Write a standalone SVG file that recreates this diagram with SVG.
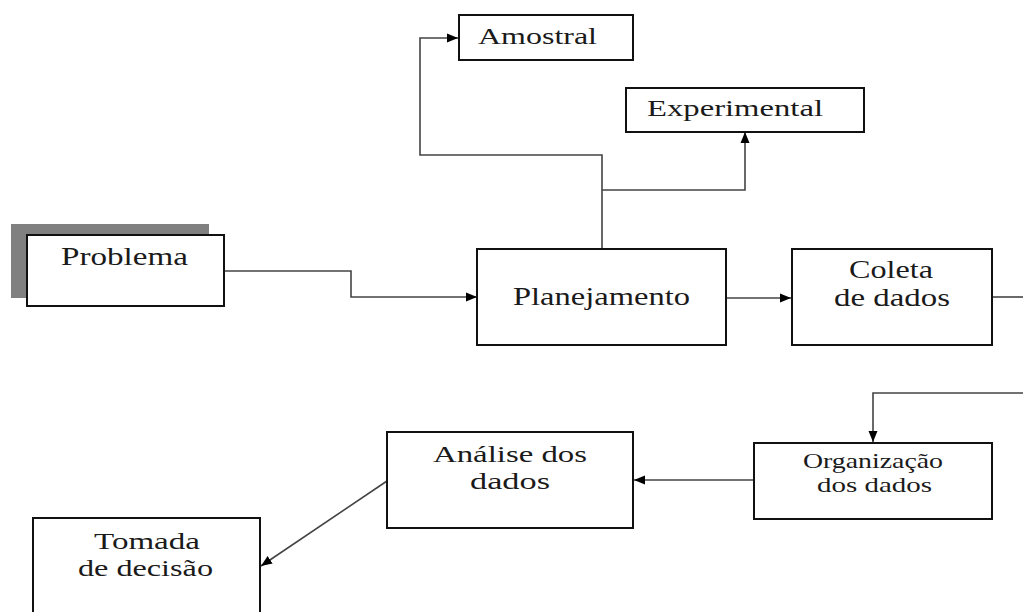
<svg xmlns="http://www.w3.org/2000/svg" width="1023" height="612" viewBox="0 0 1023 612">
<defs>
<style>
.box{fill:#fff;stroke:#111;stroke-width:2}
.lbl{font-family:"Liberation Serif","Times New Roman",serif;fill:#1a1a1a}
.edge{fill:none;stroke:#444;stroke-width:1.6}
</style>
<marker id="arr" markerUnits="userSpaceOnUse" markerWidth="12" markerHeight="10" refX="11" refY="5" orient="auto">
<path d="M0,0.5 L11,5 L0,9.5 z" fill="#000"/>
</marker>
</defs>
<rect width="1023" height="612" fill="#fff"/>

<g id="connectors">
<path class="edge" d="M224,271 H351 V297 H477" marker-end="url(#arr)"/>
<path class="edge" d="M602,249 V155 H420 V38 H458" marker-end="url(#arr)"/>
<path class="edge" d="M602,190 H745 V132" marker-end="url(#arr)"/>
<path class="edge" d="M726,298 H791" marker-end="url(#arr)"/>
<path class="edge" d="M992,297 H1023"/>
<path class="edge" d="M1023,393 H873 V442" marker-end="url(#arr)"/>
<path class="edge" d="M754,480 H634" marker-end="url(#arr)"/>
<path class="edge" d="M387,481 L261,566" marker-end="url(#arr)"/>
</g>

<g id="amostral">
<rect class="box" x="459" y="15" width="174" height="45"/>
<text class="lbl" x="478" y="44" font-size="23" textLength="119" lengthAdjust="spacingAndGlyphs">Amostral</text>
</g>

<g id="experimental">
<rect class="box" x="626" y="88" width="238" height="44"/>
<text class="lbl" x="647" y="116" font-size="23" textLength="176" lengthAdjust="spacingAndGlyphs">Experimental</text>
</g>

<g id="problema">
<rect x="11" y="224" width="198" height="74" fill="#808080"/>
<rect class="box" x="27" y="235" width="197" height="71"/>
<text class="lbl" x="61" y="265" font-size="25" textLength="127" lengthAdjust="spacingAndGlyphs">Problema</text>
</g>

<g id="planejamento">
<rect class="box" x="477" y="249" width="249" height="96"/>
<text class="lbl" x="513" y="305" font-size="25" textLength="177" lengthAdjust="spacingAndGlyphs">Planejamento</text>
</g>

<g id="coleta">
<rect class="box" x="792" y="249" width="200" height="96"/>
<text class="lbl" x="849" y="278" font-size="25" textLength="84" lengthAdjust="spacingAndGlyphs">Coleta</text>
<text class="lbl" x="834" y="306" font-size="25" textLength="116" lengthAdjust="spacingAndGlyphs">de dados</text>
</g>

<g id="organizacao">
<rect class="box" x="754" y="443" width="238" height="76"/>
<text class="lbl" x="803" y="468" font-size="21" textLength="140" lengthAdjust="spacingAndGlyphs">Organização</text>
<text class="lbl" x="817" y="492" font-size="21" textLength="115" lengthAdjust="spacingAndGlyphs">dos dados</text>
</g>

<g id="analise">
<rect class="box" x="387" y="432" width="246" height="96"/>
<text class="lbl" x="433" y="462" font-size="24" textLength="154" lengthAdjust="spacingAndGlyphs">Análise dos</text>
<text class="lbl" x="470" y="489" font-size="24" textLength="80" lengthAdjust="spacingAndGlyphs">dados</text>
</g>

<g id="tomada">
<rect class="box" x="33" y="518" width="227" height="110"/>
<text class="lbl" x="94" y="549" font-size="24" textLength="106" lengthAdjust="spacingAndGlyphs">Tomada</text>
<text class="lbl" x="78" y="576" font-size="24" textLength="135" lengthAdjust="spacingAndGlyphs">de decisão</text>
</g>
</svg>
